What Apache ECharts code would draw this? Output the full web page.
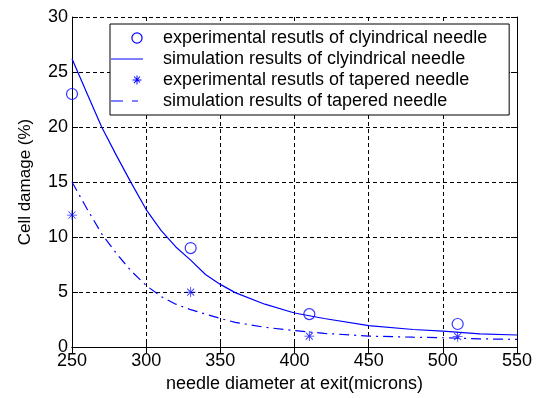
<!DOCTYPE html>
<html>
<head>
<meta charset="utf-8">
<script src="https://cdn.jsdelivr.net/npm/echarts@6/dist/echarts.min.js"></script>
<style>
  html, body { margin: 0; padding: 0; background: #fff; }
  #chart { width: 539px; height: 398px; }
</style>
</head>
<body>
<div id="chart"></div>
<script>
// experimental points
const expDiameters = [250, 330, 410, 510];
const expCylindrical = [23, 9, 3, 2.1];
const expTapered = [12, 5, 1.0, 0.95];

// simulation curves
const simDiameters = [250, 260, 270, 280, 290, 300, 310, 320, 330, 340, 350, 360, 380, 400, 420, 450, 480, 500, 525, 550];
const simCylindrical = [26.2, 23.1, 20.0, 17.4, 14.9, 12.5, 10.6, 9.1, 7.9, 6.6, 5.7, 4.95, 3.9, 3.1, 2.6, 1.95, 1.6, 1.45, 1.2, 1.1];
const simTapered = [15.0, 12.6, 10.3, 8.5, 6.9, 5.6, 4.6, 3.9, 3.4, 3.0, 2.6, 2.25, 1.8, 1.5, 1.25, 1.0, 0.9, 0.85, 0.75, 0.7];

const xTicks = [250, 300, 350, 400, 450, 500, 550];
const yTicks = [0, 5, 10, 15, 20, 25, 30];

const names = [
  'experimental resutls of clyindrical needle',
  'simulation results of clyindrical needle',
  'experimental resutls of tapered needle',
  'simulation results of tapered needle'
];

const BLUE = '#0000ff';
const FONT = 'Liberation Sans';

// matlab style "*" marker
const asterisk = 'path://M-0.5,-6 h1 v12 h-1 z M-6,-0.5 h12 v1 h-12 z ' +
  'M-4.55,-3.85 L-3.85,-4.55 L4.55,3.85 L3.85,4.55 Z ' +
  'M-4.55,3.85 L3.85,-4.55 L4.55,-3.85 L-3.85,4.55 Z';

// legend icons, all on a 32 x 14 box so nothing gets stretched
const box = 'M0,0 L0.001,0 L0,0.001 Z M32,14 L31.999,14 L32,13.999 Z ';
const iconCircle = 'path://' + box +
  'M20.3,7 A5.7,5.7 0 1,0 31.7,7 A5.7,5.7 0 1,0 20.3,7 Z ' +
  'M21.5,7 A4.5,4.5 0 1,1 30.5,7 A4.5,4.5 0 1,1 21.5,7 Z';
const iconLine = 'path://' + box + 'M0,6.5 L32,6.5 L32,7.6 L0,7.6 Z';
const iconDashDot = 'path://' + box + 'M0,6.5 L12,6.5 L12,7.6 L0,7.6 Z M21,6.5 L27,6.5 L27,7.6 L21,7.6 Z';
const iconStar = 'path://' + box +
  'M25.5,2.5 h1 v9 h-1 z M21.5,6.5 h9 v1 h-9 z ' +
  'M22.65,3.85 L23.35,3.15 L29.35,9.15 L28.65,9.85 Z ' +
  'M22.65,9.85 L28.65,3.15 L29.35,3.85 L23.35,10.55 Z';
const legendIcons = [iconCircle, iconLine, iconStar, iconDashDot];

const pairs = (xs, ys) => xs.map((x, i) => [x, ys[i]]);

const chart = echarts.init(document.getElementById('chart'));

const axisCommon = {
  type: 'value',
  axisLine: { show: true, lineStyle: { color: '#000', width: 1 } },
  axisTick: { show: true, inside: true, length: 6, lineStyle: { color: '#000' } }
};

chart.setOption({
  animation: false,
  backgroundColor: '#fff',
  textStyle: { fontFamily: FONT },
  grid: { left: 72, right: 22, top: 17, bottom: 46 },
  legend: {
    orient: 'vertical',
    left: 110,
    top: 24,
    padding: [5, 22, 5, 1],
    itemWidth: 32,
    itemHeight: 14,
    itemGap: 3,
    borderColor: '#000',
    borderWidth: 1,
    backgroundColor: '#fff',
    textStyle: { fontFamily: FONT, fontSize: 18, color: '#000', padding: [0, 0, 0, 15] },
    data: names.map((n, i) => ({
      name: n,
      icon: legendIcons[i],
      itemStyle: { color: BLUE, borderWidth: 0, opacity: 1 },
      lineStyle: { width: 0 }
    }))
  },
  xAxis: [
    Object.assign({}, axisCommon, {
      min: xTicks[0], max: xTicks[xTicks.length - 1], interval: 50,
      position: 'bottom',
      name: 'needle diameter at exit(microns)',
      nameLocation: 'middle',
      nameGap: 26,
      nameTextStyle: { fontFamily: FONT, fontSize: 18, color: '#000' },
      axisLabel: { fontFamily: FONT, fontSize: 18, color: '#000', margin: 5 },
      splitLine: { show: true, lineStyle: { color: '#000', type: [4, 3], width: 1 } }
    }),
    Object.assign({}, axisCommon, {
      min: xTicks[0], max: xTicks[xTicks.length - 1], interval: 50,
      position: 'top',
      axisLabel: { show: false },
      splitLine: { show: false }
    })
  ],
  yAxis: [
    Object.assign({}, axisCommon, {
      min: yTicks[0], max: yTicks[yTicks.length - 1], interval: 5,
      position: 'left',
      name: 'Cell damage (%)',
      nameLocation: 'middle',
      nameGap: 38,
      nameTextStyle: { fontFamily: FONT, fontSize: 17, color: '#000' },
      axisLabel: { fontFamily: FONT, fontSize: 18, color: '#000', margin: 4 },
      splitLine: { show: true, lineStyle: { color: '#000', type: [4, 3], width: 1 } }
    }),
    Object.assign({}, axisCommon, {
      min: yTicks[0], max: yTicks[yTicks.length - 1], interval: 5,
      position: 'right',
      axisLabel: { show: false },
      splitLine: { show: false }
    })
  ],
  series: [
    {
      name: names[0],
      type: 'scatter',
      data: pairs(expDiameters, expCylindrical),
      symbol: 'circle',
      symbolSize: 11,
      itemStyle: { color: 'rgba(0,0,0,0)', borderColor: BLUE, borderWidth: 1.2 },
      z: 5
    },
    {
      name: names[1],
      type: 'line',
      data: pairs(simDiameters, simCylindrical),
      showSymbol: false,
      symbol: 'none',
      lineStyle: { color: BLUE, width: 1.2 },
      itemStyle: { color: BLUE }
    },
    {
      name: names[2],
      type: 'scatter',
      data: pairs(expDiameters, expTapered),
      symbol: asterisk,
      symbolSize: 10,
      itemStyle: { color: BLUE },
      z: 5
    },
    {
      name: names[3],
      type: 'line',
      data: pairs(simDiameters, simTapered),
      showSymbol: false,
      symbol: 'none',
      lineStyle: { color: BLUE, width: 1.2, type: [10, 5, 2, 5] },
      itemStyle: { color: BLUE }
    }
  ]
});
</script>
</body>
</html>
